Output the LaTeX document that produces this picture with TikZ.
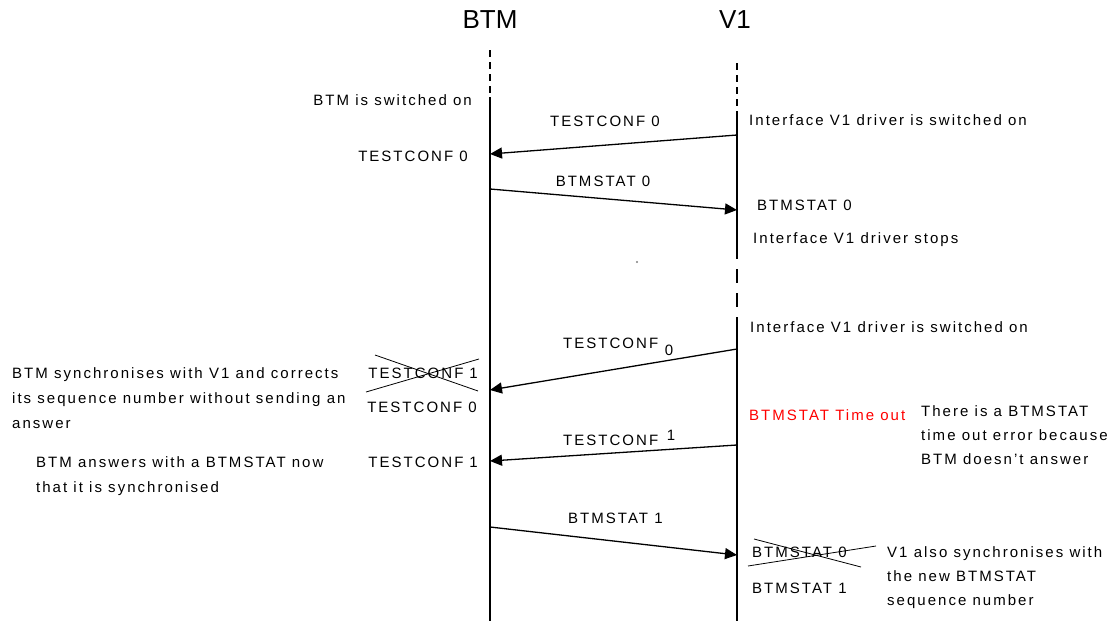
\documentclass[tikz,border=0pt]{standalone}
\usepackage{fontspec}
\setmainfont{Liberation Sans}[LetterSpace=13.5]
\newfontfamily\titlefont{Liberation Sans}
\usetikzlibrary{arrows.meta}
\begin{document}
\begin{tikzpicture}[x=1pt,y=-1pt,
  txt/.style={font=\fontsize{15}{17}\selectfont, inner sep=0pt},
  lft/.style={txt, anchor=base west},
  rgt/.style={txt, anchor=base east},
  mid/.style={txt, anchor=base},
  ttl/.style={font=\titlefont\fontsize{26}{28}\selectfont, inner sep=0pt},
  life/.style={line width=1.5pt},
  lifedash/.style={line width=1.5pt, dash pattern=on 7pt off 5pt},
  lifedashlong/.style={line width=1.5pt, dash pattern=on 14pt off 10pt},
  msg/.style={line width=1.3pt, -{Triangle[length=12pt,width=11pt]}},
  crossline/.style={line width=0.8pt},
  errtxt/.style={lft, text=red}
]
\useasboundingbox (0,0) rectangle (1117,621);
\fill[white] (0,0) rectangle (1117,621);

% titles
\node[ttl] (tB) at (490,20) {BTM};
\node[ttl] (tV) at (735,20) {V1};

% lifeline coordinates
\coordinate (B0) at (490,50);
\coordinate (B1) at (490,97);
\coordinate (B2) at (490,621);
\coordinate (V0) at (737,63);
\coordinate (V1a) at (737,112);
\coordinate (V2) at (737,245);
\coordinate (V3) at (737,322);
\coordinate (V4) at (737,621);

\draw[lifedash] (B0) -- (B1);
\draw[life] (B1) -- (B2);
\draw[lifedash] (V0) -- (V1a);
\draw[life] (V1a) -- (V2);
\draw[lifedashlong] (V2) -- (V3);
\draw[life] (V3) -- (V4);

% message end points
\coordinate (m1s) at (737,135);
\coordinate (m1e) at (490,154);
\coordinate (m2s) at (490,189);
\coordinate (m2e) at (737,210);
\coordinate (m3s) at (737,349);
\coordinate (m3e) at (490,390);
\coordinate (m4s) at (737,445);
\coordinate (m4e) at (490,461);
\coordinate (m5s) at (490,527);
\coordinate (m5e) at (737,555);

\draw[msg] (m1s) -- (m1e);
\draw[msg] (m2s) -- (m2e);
\draw[msg] (m3s) -- (m3e);
\draw[msg] (m4s) -- (m4e);
\draw[msg] (m5s) -- (m5e);

% message labels
\node[mid] (l1) at (605,126) {TESTCONF 0};
\node[mid] (l2) at (603,186) {BTMSTAT 0};
\node[lft] (l3) at (563,348) {TESTCONF};
\node[mid] (l3n) at (669,355) {0};
\node[lft] (l4) at (563,445) {TESTCONF};
\node[mid] (l4n) at (671,440) {1};
\node[lft] (l5) at (568,523) {BTMSTAT 1};

% left side
\node[rgt] (n1) at (472,105) {BTM is switched on};
\node[rgt] (n2) at (468,161) {TESTCONF 0};
\node[lft] (n3a) at (12,378) {BTM synchronises with V1 and corrects};
\node[lft] (n3b) at (12,403) {its sequence number without sending an};
\node[lft] (n3c) at (12,428) {answer};
\node[rgt] (x1) at (478,378) {TESTCONF\hspace{6pt}1};
\coordinate (x1a) at (375,355);
\coordinate (x1b) at (478,391);
\coordinate (x1c) at (366,392);
\coordinate (x1d) at (479,359);
\draw[crossline] (x1a) -- (x1b);
\draw[crossline] (x1c) -- (x1d);
\node[rgt] (n4) at (477,412) {TESTCONF 0};
\node[rgt] (n5) at (478,467) {TESTCONF\hspace{6pt}1};
\node[lft] (n6a) at (36,467) {BTM answers with a BTMSTAT now};
\node[lft] (n6b) at (36,492) {that it is synchronised};

% right side
\node[lft] (r1) at (749,125) {Interface V1 driver is switched on};
\node[lft] (r2) at (757,210) {BTMSTAT 0};
\node[lft] (r3) at (753,243) {Interface V1 driver stops};
\fill[gray] (637,262) circle (1.2);
\node[lft] (r4) at (750,332) {Interface V1 driver is switched on};
\node[errtxt] (r5) at (749,420) {BTMSTAT Time out};
\node[lft] (r6a) at (921,416) {There is a BTMSTAT};
\node[lft] (r6b) at (921,440) {time out error because};
\node[lft] (r6c) at (921,464) {BTM doesn't answer};
\node[lft] (x2) at (752,557) {BTMSTAT 0};
\coordinate (x2a) at (754,539);
\coordinate (x2b) at (861,567);
\coordinate (x2c) at (748,566);
\coordinate (x2d) at (876,546);
\draw[crossline] (x2a) -- (x2b);
\draw[crossline] (x2c) -- (x2d);
\node[lft] (r7) at (752,593) {BTMSTAT 1};
\node[lft] (r8a) at (887,557) {V1 also synchronises with};
\node[lft] (r8b) at (887,581) {the new BTMSTAT};
\node[lft] (r8c) at (887,605) {sequence number};
\end{tikzpicture}
\end{document}
